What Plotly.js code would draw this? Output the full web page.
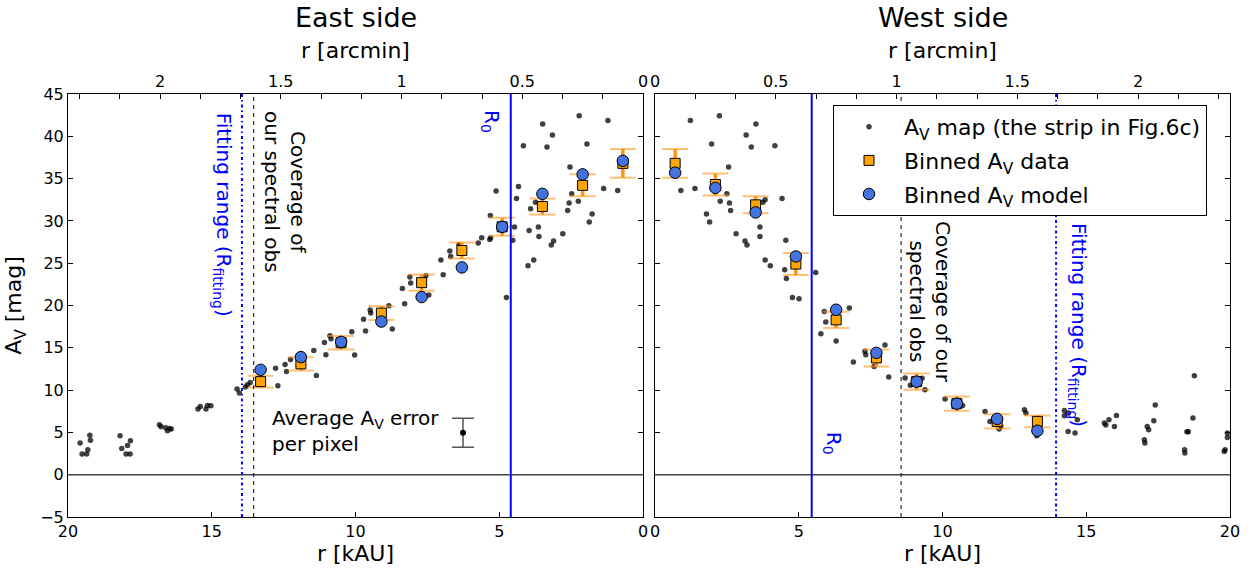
<!DOCTYPE html>
<html><head><meta charset="utf-8">
<script src="https://cdn.plot.ly/plotly-3.0.1.min.js"></script>
<style>html,body{margin:0;padding:0;background:#fff}#chart{width:1257px;height:569px}</style>
</head><body><div id="chart"></div>
<script>
// ---------- data ----------
const KAU_PER_ARCMIN = 8.4;
const BIN_R = [0.7, 2.1, 3.5, 4.9, 6.3, 7.7, 9.1, 10.5, 11.9, 13.3];

const EAST_BIN_DATA  = [36.8, 34.2, 31.7, 29.3, 26.5, 22.7, 19.1, 15.6, 13.1, 11.0];
const EAST_BIN_ERR   = [1.7, 1.3, 0.95, 1.06, 0.95, 0.95, 0.8, 0.8, 0.77, 0.7];
const EAST_BIN_MODEL = [37.1, 35.5, 33.2, 29.3, 24.5, 21.0, 18.1, 15.7, 13.9, 12.4];

const WEST_BIN_DATA  = [36.8, 34.3, 31.9, 24.9, 18.3, 13.8, 11.0, 8.4, 6.3, 6.3];
const WEST_BIN_ERR   = [1.7, 1.3, 1.0, 1.3, 0.95, 1.0, 0.95, 0.85, 0.85, 0.7];
const WEST_BIN_MODEL = [35.7, 33.9, 31.0, 25.8, 19.5, 14.4, 11.0, 8.4, 6.6, 5.2];

const EAST_MAP_R = [19.58,19.51,19.35,19.31,19.24,19.22,18.19,18.13,17.98,17.93,17.84,17.83,
 16.82,16.76,16.6,16.54,16.46,16.41,15.48,15.4,15.2,15.15,15.03,14.12,14.04,13.83,13.76,13.66,
 12.78,12.7,12.45,12.4,12.26,11.45,11.36,11.08,11.03,10.89,10.85,10.13,10.03,9.72,9.65,9.49,9.47,
 8.84,8.72,8.37,8.29,8.11,8.08,7.55,7.45,6.95,7.03,6.72,6.69,6.4,5.73,5.61,5.33,5.3,5.31,5.11,4.75,
 4.53,4.47,4.4,4.33,4.16,4.0,3.96,3.91,3.8,3.74,3.64,3.62,3.49,3.34,3.19,3.15,3.11,2.79,2.62,2.57,
 2.54,2.48,2.25,2.22,1.95,1.87,1.77,1.37,1.22,0.88];
const EAST_MAP_AV = [3.74,2.45,2.45,2.95,4.65,4.06,4.6,3.1,2.45,3.46,2.45,4.02,
 5.9,5.67,5.55,5.2,5.47,5.4,7.76,8.07,7.76,8.19,8.16,10.13,9.65,10.36,10.64,10.91,
 12.57,10.52,13.04,12.21,13.63,14.69,11.74,15.64,14.18,16.43,16.08,16.9,14.15,18.36,16.99,19.47,19.11,
 19.98,17.22,22.02,20.21,23.37,22.66,23.52,21.24,23.64,25.38,26.44,25.8,27.19,27.39,28.01,27.81,28.01,30.65,33.53,20.96,
 27.7,29.28,32.66,34.08,38.89,24.7,28.88,31.44,25.38,32.19,29.28,28.17,41.45,38.73,27.15,40.15,27.62,28.49,31.24,32.11,
 36.37,33.21,32.31,42.43,39.09,29.87,30.82,33.84,41.88,33.6];

const WEST_MAP_R = [0.9,1.23,1.39,1.79,1.9,1.97,2.24,2.27,2.5,2.56,2.59,2.63,2.82,3.13,3.17,3.2,3.35,3.51,
 3.65,3.65,3.75,3.83,3.83,4.01,4.17,4.42,4.55,4.51,4.57,5.59,4.78,5.01,5.77,5.89,5.94,6.3,6.76,6.9,7.3,7.33,
 7.62,8.0,8.13,8.7,8.88,9.29,9.39,10.09,10.57,10.7,11.48,11.65,11.97,12.03,12.85,12.9,13.28,14.24,14.24,14.38,
 14.37,14.61,14.69,15.63,15.68,15.79,15.98,16.05,17.02,17.04,17.12,17.17,17.35,17.4,18.42,18.43,18.5,18.55,
 18.71,18.76,19.8,19.83,19.91,19.91];
const WEST_MAP_AV = [33.6,41.88,33.84,30.82,29.87,39.09,42.43,32.31,33.21,36.37,32.11,31.24,28.49,27.62,40.15,27.15,38.73,41.45,
 29.28,28.17,32.19,32.5,25.38,24.7,38.89,32.66,27.7,24.23,23.2,23.91,20.96,20.8,16.67,19.3,18.05,15.8,19.7,13.32,14.58,14.18,
 12.8,15.33,11.55,11.43,10.56,11.39,10.05,8.95,8.27,8.19,7.48,6.3,5.4,5.71,7.68,7.29,4.61,7.6,6.97,7.29,
 5.12,4.93,6.5,6.11,5.87,6.5,5.71,7.01,4.14,3.75,5.71,5.32,6.38,8.24,2.95,2.56,5.08,5.08,
 6.7,11.7,2.75,2.95,4.93,4.41];

// reference lines (kAU)
const EAST_R0 = 4.6, WEST_R0 = 5.45;
const EAST_FIT = 13.95, WEST_FIT = 13.95;
const EAST_COVER = 13.54, WEST_COVER = 8.56;

// average per-pixel error sample
const AVG_ERR_R = [6.26], AVG_ERR_AV = [4.96], AVG_ERR = [1.71];

const KAU_TICKS = [0, 5, 10, 15, 20];
const Y_TICKS = [-5, 0, 5, 10, 15, 20, 25, 30, 35, 40, 45];
const Y_LABELS = ['\u22125', '0', '5', '10', '15', '20', '25', '30', '35', '40', '45'];
const ARCMIN_MAJOR = [0, 0.5, 1, 1.5, 2];
const ARCMIN_LABELS = ['0', '0.5', '1', '1.5', '2'];
const ARCMIN_MINOR_STEPS = [1, 2, 4, 5, 7, 8, 10, 11, 13, 14]; // in units of 10 arcsec

// ---------- build ----------
const FONT = 'DejaVu Sans, Liberation Sans, sans-serif';
const topMajor = ARCMIN_MAJOR.map(a => a * KAU_PER_ARCMIN);
const topMinor = ARCMIN_MINOR_STEPS.map(k => k / 6 * KAU_PER_ARCMIN);

function mapTrace(r, a, xa, ya, show) {
  return {x: r, y: a, xaxis: xa, yaxis: ya, type: 'scatter', mode: 'markers',
    name: 'A<sub>V</sub> map (the strip in Fig.6c)', legendgroup: 'g1', showlegend: show,
    marker: {size: 5.5, color: 'rgba(0,0,0,0.75)'}, hoverinfo: 'skip'};
}
function capTrace(d, e, xa, ya) {
  return {x: BIN_R, y: d, xaxis: xa, yaxis: ya, type: 'scatter', mode: 'markers', showlegend: false,
    marker: {size: 1, color: 'rgba(0,0,0,0)'},
    error_y: {type: 'data', array: e, visible: true, color: 'rgba(255,150,30,0.6)', thickness: 2, width: 13}};
}
function dataTrace(d, e, xa, ya, show) {
  return {x: BIN_R, y: d, xaxis: xa, yaxis: ya, type: 'scatter', mode: 'markers',
    name: 'Binned A<sub>V</sub> data', legendgroup: 'g2', showlegend: show,
    marker: {symbol: 'square', size: 10, color: '#FFA500', line: {color: '#000', width: 1}},
    error_y: {type: 'data', array: e, visible: true, color: '#FF9410', thickness: 3.5, width: 0}};
}
function modelTrace(m, xa, ya, show) {
  return {x: BIN_R, y: m, xaxis: xa, yaxis: ya, type: 'scatter', mode: 'markers',
    name: 'Binned A<sub>V</sub> model', legendgroup: 'g3', showlegend: show,
    marker: {symbol: 'circle', size: 11.5, color: '#4472DF', line: {color: '#000', width: 1}}};
}
// invisible helper so the top (arcmin) axes get drawn
function topAxisHolder(xa, ya) {
  return {x: BIN_R, y: EAST_BIN_DATA, xaxis: xa, yaxis: ya, type: 'scatter', mode: 'markers',
    showlegend: false, hoverinfo: 'skip', marker: {size: 1, color: 'rgba(0,0,0,0)'}};
}

const traces = [
  topAxisHolder('x3', 'y'),
  topAxisHolder('x4', 'y2'),
  mapTrace(EAST_MAP_R, EAST_MAP_AV, 'x', 'y', true),
  mapTrace(WEST_MAP_R, WEST_MAP_AV, 'x2', 'y2', false),
  capTrace(EAST_BIN_DATA, EAST_BIN_ERR, 'x', 'y'),
  capTrace(WEST_BIN_DATA, WEST_BIN_ERR, 'x2', 'y2'),
  dataTrace(EAST_BIN_DATA, EAST_BIN_ERR, 'x', 'y', true),
  dataTrace(WEST_BIN_DATA, WEST_BIN_ERR, 'x2', 'y2', false),
  modelTrace(EAST_BIN_MODEL, 'x', 'y', true),
  modelTrace(WEST_BIN_MODEL, 'x2', 'y2', false),
  {x: AVG_ERR_R, y: AVG_ERR_AV, xaxis: 'x', yaxis: 'y', type: 'scatter', mode: 'markers', showlegend: false,
   marker: {size: 6, color: '#000'},
   error_y: {type: 'data', array: AVG_ERR, visible: true, color: '#555', thickness: 1.5, width: 11}}
];

const PW = 1257 - 68 - 27;
const axBase = {showgrid: false, zeroline: false, showline: true, linecolor: '#000', linewidth: 1,
  ticks: 'inside', ticklen: 5, tickcolor: '#000', tickfont: {family: FONT, size: 16, color: '#000'}};
const titleFont = {family: FONT, size: 22, color: '#000'};
const topMinorCfg = {ticks: 'inside', ticklen: 5, tickcolor: '#000', tickmode: 'array', tickvals: topMinor, showgrid: false};

const layout = {
  width: 1257, height: 569,
  margin: {l: 68, r: 27, t: 94, b: 52},
  paper_bgcolor: '#fff', plot_bgcolor: '#fff',
  font: {family: FONT, color: '#000'},
  xaxis: Object.assign({}, axBase, {domain: [0, 575 / PW], range: [20, 0], anchor: 'y',
    tickmode: 'array', tickvals: KAU_TICKS, title: {text: 'r [kAU]', font: titleFont, standoff: 4}}),
  xaxis3: Object.assign({}, axBase, {overlaying: 'x', side: 'top', anchor: 'y', range: [20, 0],
    tickmode: 'array', tickvals: topMajor, ticktext: ARCMIN_LABELS, minor: topMinorCfg,
    title: {text: 'r [arcmin]', font: titleFont, standoff: 6}}),
  xaxis2: Object.assign({}, axBase, {domain: [587 / PW, 1], range: [0, 20], anchor: 'y2',
    tickmode: 'array', tickvals: KAU_TICKS, title: {text: 'r [kAU]', font: titleFont, standoff: 4}}),
  xaxis4: Object.assign({}, axBase, {overlaying: 'x2', side: 'top', anchor: 'y2', range: [0, 20],
    tickmode: 'array', tickvals: topMajor, ticktext: ARCMIN_LABELS, minor: topMinorCfg,
    title: {text: 'r [arcmin]', font: titleFont, standoff: 6}}),
  yaxis: Object.assign({}, axBase, {domain: [0, 1], range: [-5, 45], anchor: 'x', mirror: 'ticks',
    tickmode: 'array', tickvals: Y_TICKS, ticktext: Y_LABELS,
    title: {text: 'A<sub>V</sub> [mag]', font: titleFont, standoff: 12}}),
  yaxis2: Object.assign({}, axBase, {domain: [0, 1], range: [-5, 45], anchor: 'x2', mirror: 'ticks',
    tickmode: 'array', tickvals: Y_TICKS, showticklabels: false}),
  legend: {x: (833 - 68) / PW, y: 1 - (105 - 94) / 423, xanchor: 'left', yanchor: 'top',
    bgcolor: '#fff', bordercolor: '#000', borderwidth: 1, font: {family: FONT, size: 22, color: '#000'},
    tracegroupgap: 2, itemwidth: 60},
  shapes: [
    {type: 'line', xref: 'x domain', yref: 'y', x0: 0, x1: 1, y0: 0, y1: 0, line: {color: '#444', width: 1.5}},
    {type: 'line', xref: 'x2 domain', yref: 'y2', x0: 0, x1: 1, y0: 0, y1: 0, line: {color: '#444', width: 1.5}},
    {type: 'line', xref: 'x', yref: 'y domain', x0: EAST_R0, x1: EAST_R0, y0: 0, y1: 1, line: {color: '#0000FF', width: 2}},
    {type: 'line', xref: 'x2', yref: 'y2 domain', x0: WEST_R0, x1: WEST_R0, y0: 0, y1: 1, line: {color: '#0000FF', width: 2}},
    {type: 'line', xref: 'x', yref: 'y domain', x0: EAST_FIT, x1: EAST_FIT, y0: 0, y1: 1, line: {color: '#0000FF', width: 2, dash: '3px,3px,1.5px,3px'}},
    {type: 'line', xref: 'x2', yref: 'y2 domain', x0: WEST_FIT, x1: WEST_FIT, y0: 0, y1: 1, line: {color: '#0000FF', width: 2, dash: '3px,3px,1.5px,3px'}},
    {type: 'line', xref: 'x', yref: 'y domain', x0: EAST_COVER, x1: EAST_COVER, y0: 0, y1: 1, line: {color: '#000', width: 1, dash: '4px,4px'}},
    {type: 'line', xref: 'x2', yref: 'y2 domain', x0: WEST_COVER, x1: WEST_COVER, y0: 0, y1: 1, line: {color: '#000', width: 1, dash: '4px,4px'}}
  ],
  annotations: [
    {text: 'East side', xref: 'x domain', yref: 'paper', x: 0.5, y: (517 - 18) / 423, showarrow: false,
     xanchor: 'center', yanchor: 'middle', font: {family: FONT, size: 27, color: '#000'}},
    {text: 'West side', xref: 'x2 domain', yref: 'paper', x: 0.5, y: (517 - 18) / 423, showarrow: false,
     xanchor: 'center', yanchor: 'middle', font: {family: FONT, size: 27, color: '#000'}},
    {text: 'Fitting range (R<sub>fitting</sub>)', xref: 'x', yref: 'y', x: 14.6, y: 30.7, textangle: 90, showarrow: false,
     xanchor: 'center', yanchor: 'middle', font: {family: FONT, size: 20, color: '#0000FF'}},
    {text: 'Coverage of<br>our spectral obs', xref: 'x', yref: 'y', x: 12.45, y: 33.4, textangle: 90, showarrow: false,
     xanchor: 'center', yanchor: 'middle', align: 'center', font: {family: FONT, size: 20, color: '#000'}},
    {text: 'R<sub>0</sub>', xref: 'x', yref: 'y', x: 5.29, y: 41.7, textangle: 90, showarrow: false,
     xanchor: 'center', yanchor: 'middle', font: {family: FONT, size: 20, color: '#0000FF'}},
    {text: 'Average A<sub>V</sub> error<br>per pixel', xref: 'x', yref: 'y', x: 12.98, y: 5.2, showarrow: false,
     xanchor: 'left', yanchor: 'middle', align: 'left', font: {family: FONT, size: 20, color: '#000'}},
    {text: 'R<sub>0</sub>', xref: 'x2', yref: 'y2', x: 6.19, y: 3.66, textangle: 90, showarrow: false,
     xanchor: 'center', yanchor: 'middle', font: {family: FONT, size: 20, color: '#0000FF'}},
    {text: 'Coverage of our<br>spectral obs', xref: 'x2', yref: 'y2', x: 9.57, y: 20.4, textangle: 90, showarrow: false,
     xanchor: 'center', yanchor: 'middle', align: 'center', font: {family: FONT, size: 20, color: '#000'}},
    {text: 'Fitting range (R<sub>fitting</sub>)', xref: 'x2', yref: 'y2', x: 14.71, y: 17.7, textangle: 90, showarrow: false,
     xanchor: 'center', yanchor: 'middle', font: {family: FONT, size: 20, color: '#0000FF'}}
  ]
};

Plotly.newPlot('chart', traces, layout, {staticPlot: true, displayModeBar: false});
</script></body></html>
